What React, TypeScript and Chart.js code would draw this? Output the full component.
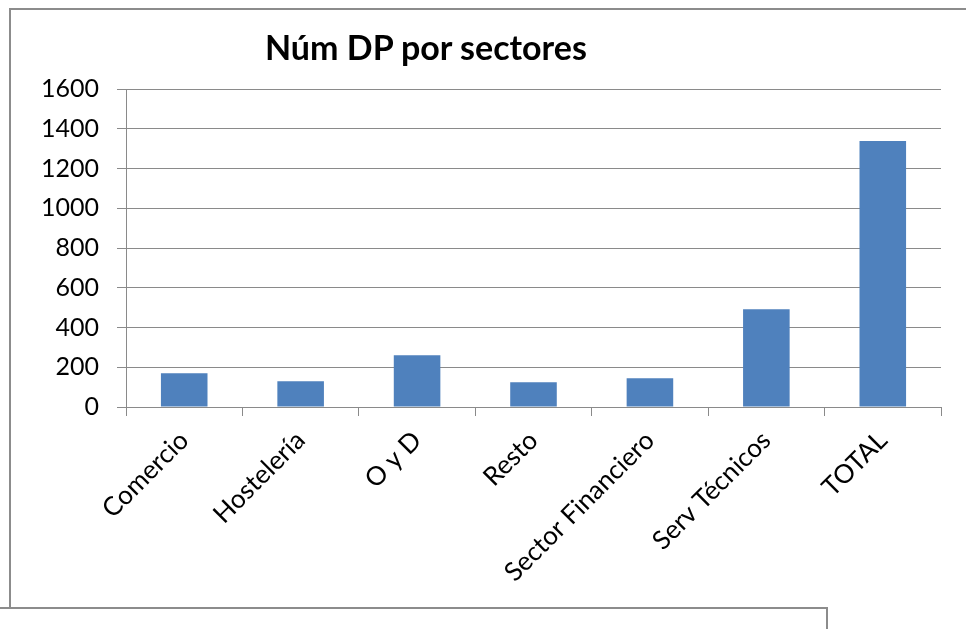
import React, { useEffect, useRef } from "react";
import { Chart, registerables } from "chart.js";

Chart.register(...registerables);

const chartTitle = "Núm DP por sectores";
const categories = [
  "Comercio",
  "Hostelería",
  "O y D",
  "Resto",
  "Sector Financiero",
  "Serv Técnicos",
  "TOTAL",
];
const dpValues = [170, 129, 260, 124, 145, 492, 1338];
const yMin = 0;
const yMax = 1600;
const yStep = 200;

const FONT = "Lato, 'Open Sans', 'DejaVu Sans', sans-serif";
const GRID = "#8a8a8a";
const W = 966;
const H = 600;

export default function App() {
  const ref = useRef<HTMLCanvasElement | null>(null);

  useEffect(() => {
    if (!ref.current) return;
    const chart = new Chart(ref.current, {
      type: "bar",
      data: {
        labels: categories,
        datasets: [
          {
            label: chartTitle,
            data: dpValues,
            backgroundColor: "#4F81BD",
            borderWidth: 0,
            barPercentage: 0.4,
            categoryPercentage: 1,
          },
        ],
      },
      options: {
        responsive: false,
        animation: false,
        devicePixelRatio: 1,
        layout: { padding: { left: 0, right: 25, top: 89, bottom: 0 } },
        plugins: {
          legend: { display: false },
          tooltip: { enabled: false },
          title: { display: false },
        },
        scales: {
          x: {
            offset: true,
            grid: {
              offset: true,
              drawOnChartArea: false,
              drawTicks: true,
              tickLength: 9,
              color: GRID,
              lineWidth: 1,
            },
            border: { color: GRID, width: 1 },
            ticks: {
              autoSkip: false,
              maxRotation: 45,
              minRotation: 45,
              padding: 9,
              color: "#000",
              font: { family: FONT, size: 26 },
            },
            afterFit: (scale: any) => {
              scale.height = H - 407;
            },
          },
          y: {
            min: yMin,
            max: yMax,
            grid: {
              color: GRID,
              lineWidth: 1,
              drawTicks: true,
              tickLength: 9,
            },
            border: { color: GRID, width: 1 },
            ticks: {
              stepSize: yStep,
              padding: 18,
              color: "#000",
              font: { family: FONT, size: 25 },
              callback: (v: any) => String(v),
            },
            afterFit: (scale: any) => {
              scale.width = 126;
            },
          },
        },
      },
    });
    return () => chart.destroy();
  }, []);

  return (
    <div
      style={{
        position: "fixed",
        left: 0,
        top: 0,
        width: W,
        height: 629,
        overflow: "hidden",
        background: "#fff",
      }}
    >
      <div
        style={{
          position: "absolute",
          left: 9,
          top: 8,
          width: 1100,
          height: 700,
          border: "2px solid #8c8c8c",
          boxSizing: "border-box",
        }}
      />
      <canvas
        ref={ref}
        width={W}
        height={H}
        style={{ position: "absolute", left: 0, top: 0, width: W, height: H }}
      />
      <div
        style={{
          position: "absolute",
          left: 265,
          top: 30,
          fontFamily: FONT,
          fontWeight: 700,
          fontSize: 34,
          lineHeight: 1,
          color: "#000",
          whiteSpace: "nowrap",
        }}
      >
        {chartTitle}
      </div>
      <div
        style={{
          position: "absolute",
          left: -5,
          top: 607,
          width: 833,
          height: 100,
          border: "2px solid #8c8c8c",
          boxSizing: "border-box",
          background: "#fff",
        }}
      />
    </div>
  );
}
